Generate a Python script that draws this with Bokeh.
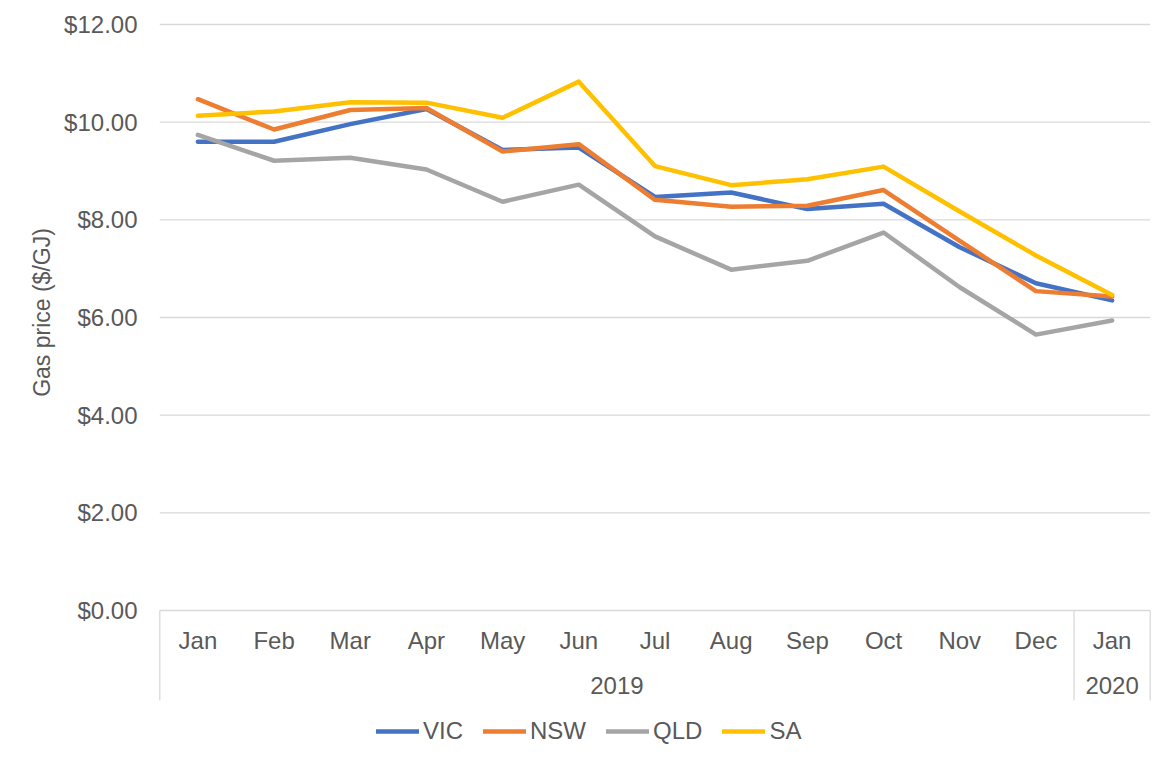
import math
from bokeh.plotting import figure
from bokeh.layouts import row
from bokeh.models import Range1d, Legend, LegendItem
from bokeh.core.properties import value
from bokeh.embed import file_html
from bokeh.resources import INLINE

months = ["Jan", "Feb", "Mar", "Apr", "May", "Jun", "Jul", "Aug", "Sep", "Oct", "Nov", "Dec", "Jan"]
years = ["2019", "2020"]
year_spans = [(0, 12), (12, 13)]  # category index spans for the year groups

vic = [9.60, 9.60, 9.96, 10.27, 9.43, 9.48, 8.47, 8.56, 8.22, 8.33, 7.44, 6.70, 6.35]
nsw = [10.47, 9.85, 10.25, 10.29, 9.40, 9.55, 8.41, 8.27, 8.29, 8.61, 7.57, 6.54, 6.43]
qld = [9.74, 9.21, 9.27, 9.03, 8.37, 8.72, 7.66, 6.98, 7.16, 7.74, 6.62, 5.65, 5.94]
sa = [10.13, 10.22, 10.41, 10.40, 10.09, 10.83, 9.10, 8.71, 8.83, 9.09, 8.17, 7.27, 6.46]

series = [("VIC", vic, "#4472C4"), ("NSW", nsw, "#ED7D31"),
          ("QLD", qld, "#A5A5A5"), ("SA", sa, "#FFC000")]
y_ticks = [0, 2, 4, 6, 8, 10, 12]
y_tick_labels = ["$%.2f" % v for v in y_ticks]
y_title = "Gas price ($/GJ)"

FONT = "Liberation Sans"
TXT = "#595959"
GRID = "#D9D9D9"

W, H = 1174, 763
FRAME_L = 157       # px of the left edge of the value area (= width of the axis strip)
TOP = 24            # px of $12 line
BASE = 610          # px of $0 line
PPU = (BASE - TOP) / 12.0   # px per $ unit
n = len(months)

def ydat(px):
    """pixel row from the top of the canvas -> data y"""
    return (BASE - px) / PPU

xs = [i + 0.5 for i in range(n)]

# --- left strip: value-axis tick labels and rotated title ---
t = figure(width=FRAME_L, height=H, title=None, x_range=Range1d(0, FRAME_L),
           y_range=Range1d(ydat(H), ydat(0)),
           x_axis_location=None, y_axis_location=None, output_backend="svg",
           toolbar_location=None, min_border=0)
t.outline_line_color = None
t.grid.visible = False
t.text(x=[137] * len(y_ticks), y=y_ticks, text=y_tick_labels, text_align="right",
       text_baseline="middle", text_font=value(FONT), text_font_size="24px", text_color=TXT)
t.text(x=[41], y=[ydat(312)], text=[y_title], angle=math.pi / 2, text_align="center",
       text_baseline="middle", text_font=value(FONT), text_font_size="23px", text_color=TXT)

# --- main chart ---
p = figure(width=W - FRAME_L, height=H, title=None, x_range=Range1d(-0.03, n + 0.03),
           y_range=Range1d(ydat(H), ydat(0)),
           x_axis_location=None, y_axis_location=None, output_backend="svg", toolbar_location=None,
           min_border_left=0, min_border_right=22, min_border_top=0, min_border_bottom=0)
p.outline_line_color = None
p.background_fill_color = "white"
p.border_fill_color = "white"
p.grid.visible = False

# horizontal gridlines at the value ticks
p.segment(x0=[0] * len(y_ticks), y0=y_ticks, x1=[n] * len(y_ticks), y1=y_ticks,
          line_color=GRID, line_width=1.3)

# category axis: separators, month and year labels
sep_pos = sorted(set([s for s, e in year_spans] + [e for s, e in year_spans]))
p.segment(x0=sep_pos, y0=[0] * len(sep_pos), x1=sep_pos, y1=[ydat(700)] * len(sep_pos),
          line_color=GRID, line_width=1.3)
p.text(x=xs, y=[ydat(640)] * n, text=months, text_align="center", text_baseline="middle",
       text_font=value(FONT), text_font_size="24px", text_color=TXT)
ycent = [(s + e) / 2 for s, e in year_spans]
p.text(x=ycent, y=[ydat(685)] * len(ycent), text=years, text_align="center",
       text_baseline="middle", text_font=value(FONT), text_font_size="24px", text_color=TXT)

items = []
for name, vals, col in series:
    r = p.line(xs, vals, line_color=col, line_width=4.5, line_join="round", line_cap="round")
    items.append(LegendItem(label=name, renderers=[r]))

legend = Legend(items=items, orientation="horizontal", location=(376 - FRAME_L, 18),
                glyph_width=43, glyph_height=20, label_standoff=4, spacing=20,
                padding=0, margin=0, border_line_color=None, background_fill_alpha=0,
                label_text_font=FONT, label_text_font_size="24px", label_text_color=TXT)
p.add_layout(legend, "center")

layout = row(t, p, spacing=0)
open("out.html", "w").write(file_html(layout, INLINE))
